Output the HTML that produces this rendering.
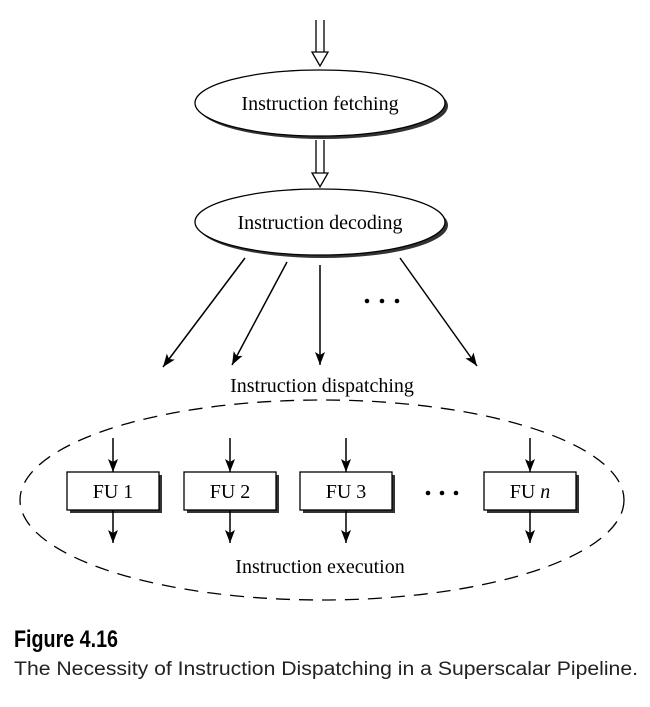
<!DOCTYPE html>
<html><head><style>body{margin:0;background:#fff}svg{display:block}</style></head><body>
<svg width="650" height="707" viewBox="0 0 650 707" xmlns="http://www.w3.org/2000/svg">
<defs>
<marker id="ah" markerWidth="14" markerHeight="14" refX="13" refY="6" orient="auto" markerUnits="userSpaceOnUse"><path d="M0,1 L13,6 L0,11 L3,6 Z" fill="#000"/></marker>
</defs>
<g stroke="#000" fill="none" stroke-width="1.3">
<path d="M316,20 V52 M324,20 V52 M312,52 L320,66 L328,52 Z" fill="#fff"/>
<path d="M316,140 V173 M324,140 V173 M312,173 L320,187 L328,173 Z" fill="#fff"/>
</g>
<ellipse cx="323" cy="106" rx="125" ry="33" fill="#333"/>
<ellipse cx="320" cy="103" rx="125" ry="33" fill="#fff" stroke="#000" stroke-width="1.3"/>
<ellipse cx="323" cy="225" rx="125" ry="33" fill="#333"/>
<ellipse cx="320" cy="222" rx="125" ry="33" fill="#fff" stroke="#000" stroke-width="1.3"/>
<g font-family="Liberation Serif, serif" font-size="20" fill="#000" text-anchor="middle">
<text x="320" y="110">Instruction fetching</text>
<text x="320" y="229">Instruction decoding</text>
<text x="322" y="392">Instruction dispatching</text>
<text x="320" y="573">Instruction execution</text>
</g>
<g stroke="#000" stroke-width="1.5" marker-end="url(#ah)">
<line x1="245" y1="258" x2="163" y2="367"/>
<line x1="287" y1="262" x2="232" y2="365"/>
<line x1="320" y1="265" x2="320" y2="365"/>
<line x1="400" y1="258" x2="477" y2="366"/>
</g>
<g fill="#000"><circle cx="367" cy="301" r="2.3"/><circle cx="382" cy="301" r="2.3"/><circle cx="397" cy="301" r="2.3"/>
<circle cx="428" cy="493" r="2.3"/><circle cx="442" cy="493" r="2.3"/><circle cx="456" cy="493" r="2.3"/></g>
<ellipse cx="322" cy="500" rx="302" ry="100" fill="none" stroke="#000" stroke-width="1.3" stroke-dasharray="14,9"/>
<g stroke="#000" stroke-width="1.3">
<rect x="70" y="475" width="92" height="38" fill="#333" stroke="none"/>
<rect x="67" y="472" width="92" height="38" fill="#fff"/>
<rect x="187" y="475" width="92" height="38" fill="#333" stroke="none"/>
<rect x="184" y="472" width="92" height="38" fill="#fff"/>
<rect x="303" y="475" width="92" height="38" fill="#333" stroke="none"/>
<rect x="300" y="472" width="92" height="38" fill="#fff"/>
<rect x="487" y="475" width="92" height="38" fill="#333" stroke="none"/>
<rect x="484" y="472" width="92" height="38" fill="#fff"/>
</g>
<g stroke="#000" stroke-width="1.5" marker-end="url(#ah)">
<line x1="113" y1="438" x2="113" y2="472"/><line x1="113" y1="510" x2="113" y2="543"/>
<line x1="230" y1="438" x2="230" y2="472"/><line x1="230" y1="510" x2="230" y2="543"/>
<line x1="346" y1="438" x2="346" y2="472"/><line x1="346" y1="510" x2="346" y2="543"/>
<line x1="530" y1="438" x2="530" y2="472"/><line x1="530" y1="510" x2="530" y2="543"/>
</g>
<g font-family="Liberation Serif, serif" font-size="20" fill="#000" text-anchor="middle">
<text x="113" y="498">FU 1</text><text x="230" y="498">FU 2</text><text x="346" y="498">FU 3</text>
<text x="530" y="498">FU <tspan font-style="italic">n</tspan></text>
</g>
<text x="14" y="647" font-family="Liberation Sans, sans-serif" font-weight="bold" font-size="24" fill="#000" textLength="104" lengthAdjust="spacingAndGlyphs">Figure 4.16</text>
<text x="14" y="675" font-family="Liberation Sans, sans-serif" font-size="19" fill="#222" textLength="624" lengthAdjust="spacingAndGlyphs">The Necessity of Instruction Dispatching in a Superscalar Pipeline.</text>
</svg>
</body></html>
